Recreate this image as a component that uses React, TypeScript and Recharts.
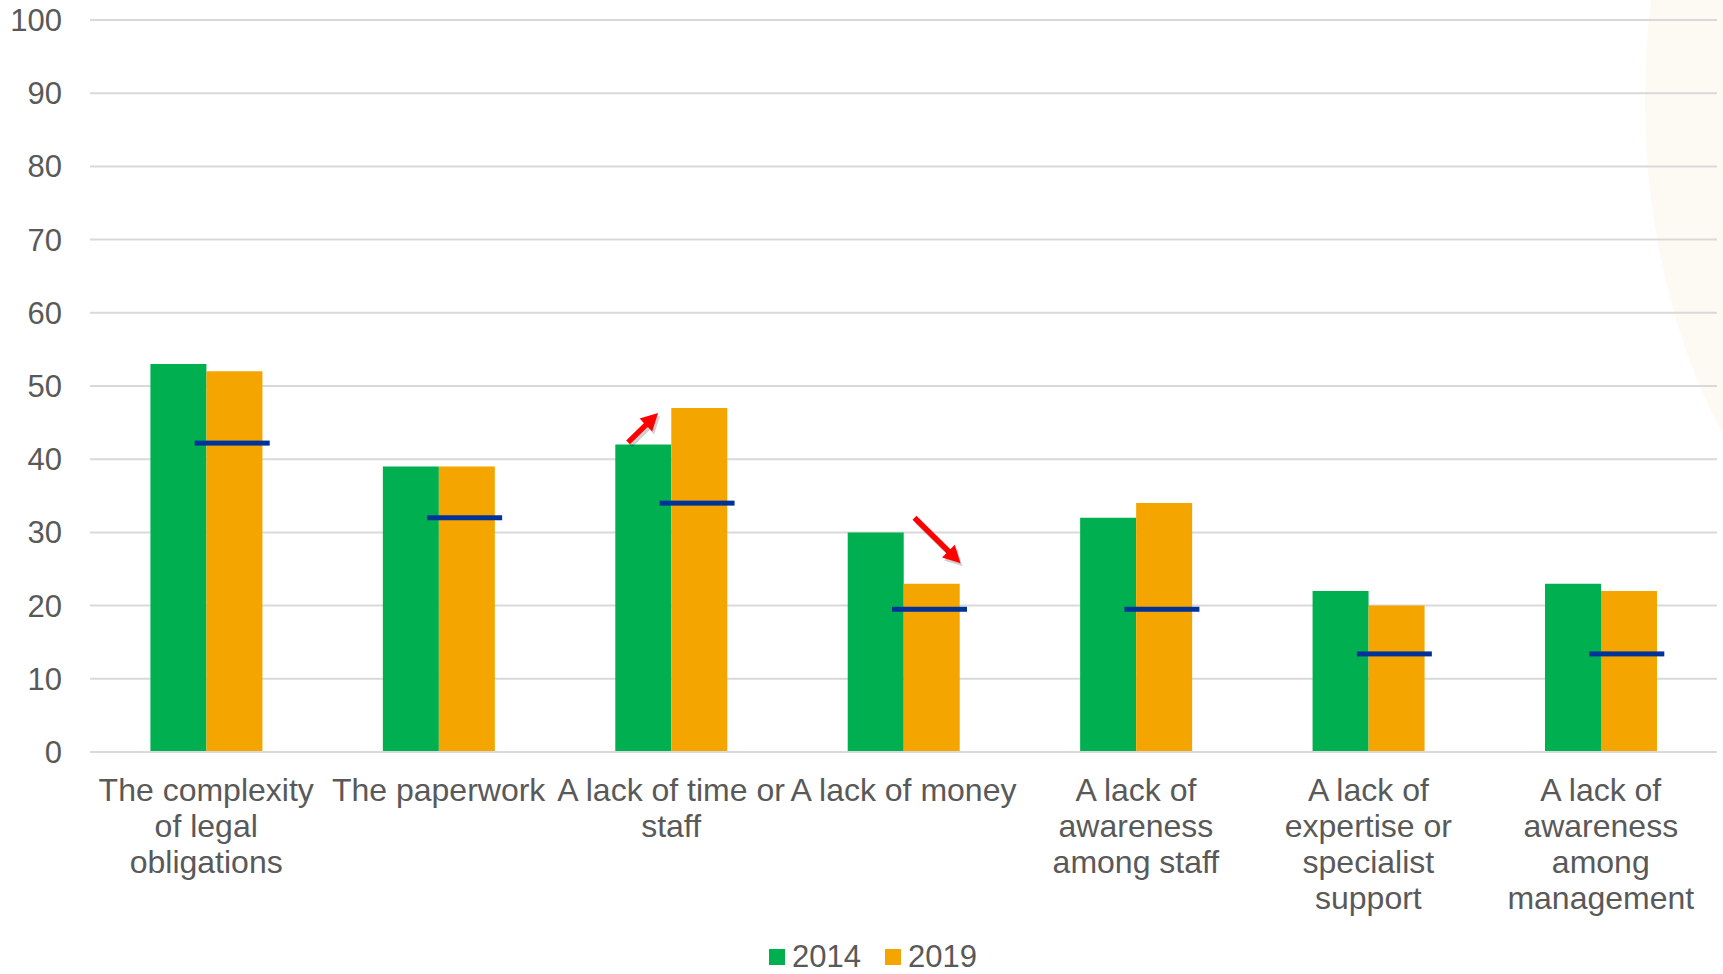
import React from "react";
import {
  ComposedChart,
  Bar,
  Line,
  XAxis,
  YAxis,
  CartesianGrid,
  Legend,
  ReferenceLine,
} from "recharts";

const categories = [
  "The complexity of legal obligations",
  "The paperwork",
  "A lack of time or staff",
  "A lack of money",
  "A lack of awareness among staff",
  "A lack of expertise or specialist support",
  "A lack of awareness among management",
];
const values2014 = [53, 39, 42, 30, 32, 22, 23];
const values2019 = [52, 39, 47, 23, 34, 20, 22];
// blue dash marks drawn across each pair of bars
const average = [42.2, 32, 34, 19.5, 19.5, 13.4, 13.4];
const yTicks = [0, 10, 20, 30, 40, 50, 60, 70, 80, 90, 100];

const GREEN = "#00B050";
const ORANGE = "#F5A500";
const BLUE = "#003399";
const TEXT = "#595959";
const GRID = "#D9D9D9";
const FONT = "'Liberation Sans', Arial, sans-serif";

const data = categories.map((name, i) => ({
  name,
  y2014: values2014[i],
  y2019: values2019[i],
  average: average[i],
}));

let measureCtx: CanvasRenderingContext2D | null = null;
function wrapWords(text: string, maxWidth: number, font: string) {
  if (!measureCtx) measureCtx = document.createElement("canvas").getContext("2d");
  const ctx = measureCtx!;
  ctx.font = font;
  const words = text.split(" ");
  const lines: string[] = [];
  let cur = "";
  for (const w of words) {
    const next = cur ? cur + " " + w : w;
    if (cur && ctx.measureText(next).width > maxWidth) {
      lines.push(cur);
      cur = w;
    } else {
      cur = next;
    }
  }
  if (cur) lines.push(cur);
  return lines;
}

function CategoryTick(props: any) {
  const { x, y, payload } = props;
  const lines = wrapWords(String(payload.value), 236, `32px 'Liberation Sans'`);
  return (
    <text x={x} y={y} textAnchor="middle" fontSize={32} fontFamily={FONT} fill={TEXT}>
      {lines.map((ln, i) => (
        <tspan key={i} x={x} dy={i === 0 ? 23 : 36}>
          {ln}
        </tspan>
      ))}
    </text>
  );
}

function AverageMark(props: any) {
  const { cx, cy } = props;
  if (cx == null || cy == null) return <g />;
  return <rect x={cx + 26 - 37.5} y={cy - 2.5} width={75} height={5} fill={BLUE} />;
}

function arrowShape(dx1: number, dx2: number) {
  return (p: any) => {
    const sx = p.x1 + dx1;
    const sy = p.y1;
    const ex = p.x2 + dx2;
    const ey = p.y2;
    const len = Math.hypot(ex - sx, ey - sy);
    const ux = (ex - sx) / len;
    const uy = (ey - sy) / len;
    const nx = -uy;
    const ny = ux;
    const h = 17;
    const w = 9;
    const bx = ex - ux * h;
    const by = ey - uy * h;
    const draw = (ox: number, oy: number, color: string, opacity: number) => (
      <g opacity={opacity}>
        <line
          x1={sx + ox}
          y1={sy + oy}
          x2={bx + ux * 3 + ox}
          y2={by + uy * 3 + oy}
          stroke={color}
          strokeWidth={5.5}
        />
        <polygon
          points={`${ex + ox},${ey + oy} ${bx + nx * w + ox},${by + ny * w + oy} ${bx - nx * w + ox},${by - ny * w + oy}`}
          fill={color}
        />
      </g>
    );
    return (
      <g>
        {draw(2, 3, "#000", 0.18)}
        {draw(0, 0, "#FF0000", 1)}
      </g>
    );
  };
}

function LegendContent() {
  const items = [
    { label: "2014", color: GREEN },
    { label: "2019", color: ORANGE },
  ];
  return (
    <div
      style={{
        display: "flex",
        alignItems: "center",
        height: 70,
        paddingTop: 36,
        paddingBottom: 0,
        boxSizing: "border-box",
        paddingLeft: 769,
        fontFamily: FONT,
        fontSize: 31,
        color: TEXT,
        lineHeight: "34px",
      }}
    >
      {items.map((it) => (
        <div key={it.label} style={{ display: "flex", alignItems: "center", marginRight: 24 }}>
          <span style={{ width: 16, height: 16, background: it.color, marginRight: 7, display: "inline-block" }} />
          <span>{it.label}</span>
        </div>
      ))}
    </div>
  );
}

export default function App() {
  return (
    <div style={{ position: "absolute", left: 0, top: 0, width: 1723, height: 974, overflow: "hidden", background: "#fff" }}>
      {/* faint decorative background curve on the right */}
      <div
        style={{
          position: "absolute",
          left: 1645,
          top: -400,
          width: 610,
          height: 1000,
          borderRadius: "50%",
          background: "#FDFAF4",
        }}
      />
      <div style={{ position: "absolute", left: 0, top: 0 }}>
        <ComposedChart
          width={1723}
          height={974}
          data={data}
          margin={{ top: 20, right: 6, bottom: 0, left: 0 }}
          barCategoryGap="26%"
          barGap={0}
        >
          <CartesianGrid vertical={false} stroke={GRID} strokeWidth={2} />
          <XAxis
            dataKey="name"
            interval={0}
            height={152}
            tickSize={0}
            tickMargin={26}
            axisLine={{ stroke: GRID, strokeWidth: 2 }}
            tickLine={false}
            tick={<CategoryTick />}
          />
          <YAxis
            width={90}
            domain={[0, 100]}
            ticks={yTicks}
            interval={0}
            axisLine={false}
            tickLine={false}
            tickSize={0}
            tickMargin={28}
            tick={{ fontSize: 31, fill: TEXT, fontFamily: FONT }}
          />
          <Bar dataKey="y2014" name="2014" fill={GREEN} isAnimationActive={false} />
          <Bar dataKey="y2019" name="2019" fill={ORANGE} isAnimationActive={false} />
          <Line
            dataKey="average"
            stroke="none"
            dot={<AverageMark />}
            activeDot={false}
            legendType="none"
            isAnimationActive={false}
          />
          <ReferenceLine
            segment={[
              { x: categories[2], y: 42.3 },
              { x: categories[2], y: 46.3 },
            ]}
            shape={arrowShape(-43, -13)}
          />
          <ReferenceLine
            segment={[
              { x: categories[3], y: 32 },
              { x: categories[3], y: 25.8 },
            ]}
            shape={arrowShape(11, 57)}
          />
          <Legend verticalAlign="bottom" content={<LegendContent />} wrapperStyle={{ left: 0, width: 1723 }} />
        </ComposedChart>
      </div>
    </div>
  );
}
